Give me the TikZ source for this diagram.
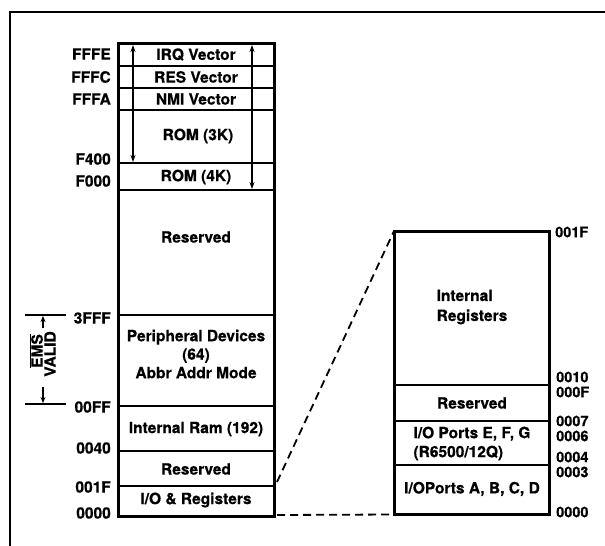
\documentclass[tikz,border=0pt]{standalone}
\usepackage{fontspec}
\setmainfont{TeX Gyre Heros}[BoldFeatures={FakeBold=0.6}]
\usetikzlibrary{arrows.meta}
\begin{document}
\begin{tikzpicture}[x=1pt,y=-1pt,
  txt/.style={font=\bfseries\fontsize{15.5}{18}\selectfont, inner sep=0pt},
  addr/.style={txt},
  addrl/.style={addr, anchor=east},
  addrr/.style={addr, anchor=west, font=\bfseries\fontsize{14.5}{16}\selectfont},
  outer/.style={line width=3pt, line join=miter},
  inner/.style={line width=1.8pt},
  frame/.style={line width=1.5pt},
  span/.style={line width=1.2pt, {Stealth[length=7pt,width=5pt]}-{Stealth[length=7pt,width=5pt]}},
  emsarrow/.style={line width=1.2pt, -{Stealth[length=6pt,width=5pt]}},
  zoomline/.style={line width=1.8pt, dash pattern=on 8pt off 5pt}
]
\useasboundingbox (0,0) rectangle (605,546);
% page frame
\draw[frame] (10,546) -- (10,12) -- (605,12);

% ---------- left memory map ----------
\coordinate (Ltl) at (118,43);
\coordinate (Lbr) at (274,516);
\foreach \yy in {66,88,110,163,190,315,406,451,486}
  \draw[inner] (118,\yy) -- (274,\yy);
\draw[outer] (Ltl) rectangle (Lbr);

\node[txt] (irq) at (196,54.5) {IRQ Vector};
\node[txt] (res) at (196,77) {RES Vector};
\node[txt] (nmi) at (196,99) {NMI Vector};
\node[txt] (rom3) at (198,136) {ROM (3K)};
\node[txt] (rom4) at (196,177) {ROM (4K)};
\node[txt] (resv1) at (196,237) {Reserved};
\node[txt, align=center, font=\bfseries\fontsize{15.5}{18.5}\selectfont] (periph) at (196,354) {Peripheral Devices\\(64)\\Abbr Addr Mode};
\node[txt] (iram) at (196,429) {Internal Ram (192)};
\node[txt] (resv2) at (196,469) {Reserved};
\node[txt] (ioreg) at (196,500) {I/O \& Registers};

% span arrows
\coordinate (a3t) at (133,45);
\coordinate (a3b) at (133,162);
\coordinate (a4t) at (252,45);
\coordinate (a4b) at (252,189);
\draw[span] (a3t) -- (a3b);
\draw[span] (a4t) -- (a4b);

% left addresses
\node[addrl] (lFFFE) at (111,54) {FFFE};
\node[addrl] (lFFFC) at (111,77) {FFFC};
\node[addrl] (lFFFA) at (111,99) {FFFA};
\node[addrl] (lF400) at (111,159) {F400};
\node[addrl] (lF000) at (111,181) {F000};
\node[addrl] (l3FFF) at (111,318) {3FFF};
\node[addrl] (l00FF) at (111,407) {00FF};
\node[addrl] (l0040) at (111,448) {0040};
\node[addrl] (l001F) at (111,487) {001F};
\node[addrl] (l0000) at (111,513) {0000};

% EMS valid bracket
\coordinate (e1a) at (25,315);
\coordinate (e1b) at (66,315);
\coordinate (e2a) at (25,404);
\coordinate (e2b) at (66,404);
\draw[inner] (e1a) -- (e1b);
\draw[inner] (e2a) -- (e2b);
\coordinate (ua) at (43,328);
\coordinate (ub) at (43,316);
\coordinate (da) at (43,387);
\coordinate (db) at (43,403);
\draw[emsarrow] (ua) -- (ub);
\draw[emsarrow] (da) -- (db);
\node[txt, rotate=90] (ems) at (36,351) {$\overline{\mbox{\bfseries EMS}}$};
\node[txt, rotate=90] (valid) at (50,354) {VALID};

% ---------- right register map ----------
\coordinate (Rtl) at (394,231);
\coordinate (Rbr) at (549,514);
\foreach \yy in {385,421,465}
  \draw[inner] (394,\yy) -- (549,\yy);
\draw[outer] (Rtl) rectangle (Rbr);

\node[txt, align=left, font=\bfseries\fontsize{15.5}{20}\selectfont] (ireg) at (472,307) {Internal\\Registers};
\node[txt] (resv3) at (472,403) {Reserved};
\node[txt, align=left, font=\bfseries\fontsize{15.5}{19}\selectfont] (pefg) at (472,443.5) {I/O Ports E, F, G\\(R6500/12Q)};
\node[txt] (pabcd) at (472,489) {I/OPorts A, B, C, D};

% right addresses
\node[addrr] (r001F) at (555,232) {001F};
\node[addrr] (r0010) at (556,377) {0010};
\node[addrr] (r000F) at (556,392) {000F};
\node[addrr] (r0007) at (556,421) {0007};
\node[addrr] (r0006) at (556,436) {0006};
\node[addrr] (r0004) at (556,457) {0004};
\node[addrr] (r0003) at (556,472) {0003};
\node[addrr] (r0000) at (556,512) {0000};

% zoom connectors
\coordinate (zfrom1) at (277,482);
\coordinate (zfrom2) at (277,515);
\coordinate (zto2) at (394,514.5);
\draw[zoomline] (zfrom1) -- (Rtl);
\draw[zoomline] (zfrom2) -- (zto2);
\end{tikzpicture}
\end{document}
